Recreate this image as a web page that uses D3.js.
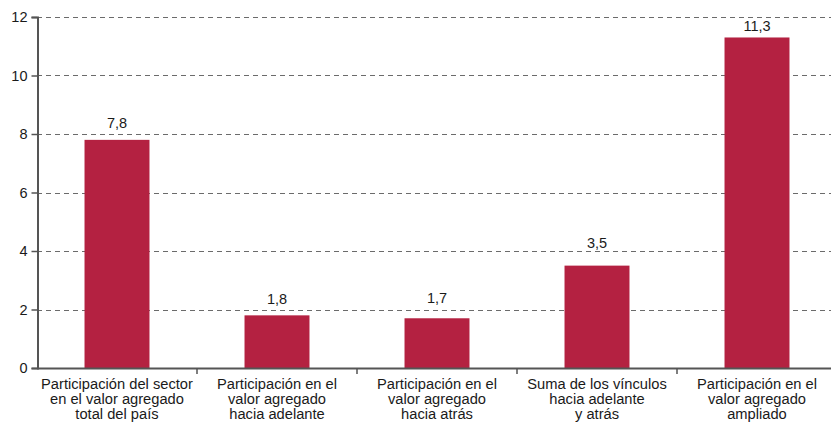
<!DOCTYPE html>
<html>
<head>
<meta charset="utf-8">
<script src="https://cdn.jsdelivr.net/npm/d3@7"></script>
<style>
  body { margin: 0; background: #fff; }
  text { font-family: "Liberation Sans", Arial, sans-serif; fill: #1a1a1a; }
</style>
</head>
<body>
<div id="chart"></div>
<script>
// data
var categories = [
  ["Participación del sector", "en el valor agregado", "total del país"],
  ["Participación en el", "valor agregado", "hacia adelante"],
  ["Participación en el", "valor agregado", "hacia atrás"],
  ["Suma de los vínculos", "hacia adelante", "y atrás"],
  ["Participación en el", "valor agregado", "ampliado"]
];
var values = [7.8, 1.8, 1.7, 3.5, 11.3];
var valueLabels = ["7,8", "1,8", "1,7", "3,5", "11,3"];
var yTicks = [0, 2, 4, 6, 8, 10, 12];

// gap (px) between bar top and its label baseline, as placed in the original
var labelGap = [12, 11, 15, 18, 6];

var W = 831, H = 423;
var margin = {left: 37, right: 837, top: 17, bottom: 368};

var svg = d3.select("#chart").append("svg")
    .attr("width", W)
    .attr("height", H);

var x = d3.scaleBand()
    .domain(d3.range(values.length))
    .range([margin.left, margin.right])
    .paddingInner(0.594)
    .paddingOuter(0.297);

var y = d3.scaleLinear().domain([0, 12]).range([margin.bottom, margin.top]);

// gridlines
svg.append("g")
  .selectAll("line")
  .data(yTicks.filter(function(d) { return d > 0; }))
  .enter().append("line")
    .attr("x1", margin.left)
    .attr("x2", W)
    .attr("y1", function(d) { return Math.round(y(d)) + 0.5; })
    .attr("y2", function(d) { return Math.round(y(d)) + 0.5; })
    .attr("stroke", "#6b6b6b")
    .attr("stroke-width", 1)
    .attr("stroke-dasharray", "5,4");

// bars
svg.append("g")
  .selectAll("rect")
  .data(values)
  .enter().append("rect")
    .attr("x", function(d, i) { return x(i); })
    .attr("width", x.bandwidth())
    .attr("y", function(d) { return y(d); })
    .attr("height", function(d) { return y(0) - y(d); })
    .attr("fill", "#b42141");

// value labels
svg.append("g")
  .selectAll("text")
  .data(values)
  .enter().append("text")
    .attr("x", function(d, i) { return x(i) + x.bandwidth() / 2; })
    .attr("y", function(d, i) { return y(d) - labelGap[i]; })
    .attr("text-anchor", "middle")
    .style("font-size", "14.5px")
    .text(function(d, i) { return valueLabels[i]; });

// y axis
var yAxis = svg.append("g")
    .attr("transform", "translate(" + (margin.left + 0.5) + ",0)")
    .call(d3.axisLeft(y).tickValues(yTicks).tickSize(6).tickPadding(4).tickFormat(d3.format("d")));
yAxis.select(".domain").attr("stroke", "#555").attr("stroke-width", 2);
yAxis.selectAll(".tick line").attr("stroke", "#555").attr("stroke-width", 1.5);
yAxis.selectAll(".tick text").style("font-size", "14.5px").attr("fill", "#1a1a1a");

// x axis line
svg.append("line")
    .attr("x1", margin.left)
    .attr("x2", W)
    .attr("y1", margin.bottom + 0.5)
    .attr("y2", margin.bottom + 0.5)
    .attr("stroke", "#555")
    .attr("stroke-width", 2);

// category boundary ticks
var bounds = d3.range(1, values.length).map(function(i) { return x(i) - x.step() * x.paddingInner() / 2; });
svg.append("g")
  .selectAll("line")
  .data(bounds)
  .enter().append("line")
    .attr("x1", function(d) { return d; })
    .attr("x2", function(d) { return d; })
    .attr("y1", margin.bottom)
    .attr("y2", margin.bottom + 6)
    .attr("stroke", "#555")
    .attr("stroke-width", 1.5);

// category labels
var catG = svg.append("g")
  .selectAll("text")
  .data(categories)
  .enter().append("text")
    .attr("x", function(d, i) { return x(i) + x.bandwidth() / 2; })
    .attr("y", margin.bottom + 21)
    .attr("text-anchor", "middle")
    .style("font-size", "14.7px");

catG.selectAll("tspan")
  .data(function(d) { return d; })
  .enter().append("tspan")
    .attr("x", function() { return d3.select(this.parentNode).attr("x"); })
    .attr("dy", function(d, j) { return j === 0 ? 0 : 15; })
    .text(function(d) { return d; });
</script>
</body>
</html>
